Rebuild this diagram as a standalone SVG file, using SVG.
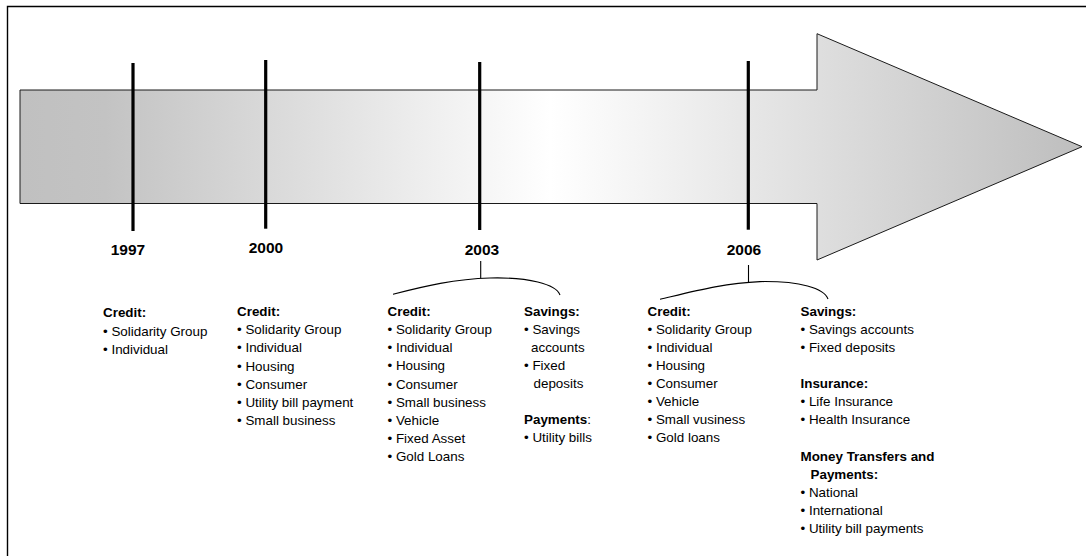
<svg xmlns="http://www.w3.org/2000/svg" width="1086" height="556" viewBox="0 0 1086 556">
  <defs>
    <linearGradient id="bandFill" gradientUnits="userSpaceOnUse" x1="20" y1="0" x2="1082" y2="0">
      <stop offset="0" stop-color="#c0c0c0"/>
      <stop offset="0.08" stop-color="#c3c3c3"/>
      <stop offset="0.5" stop-color="#ffffff"/>
      <stop offset="1" stop-color="#bebebe"/>
    </linearGradient>
  </defs>
  <style>
    .frame { fill: none; stroke: #000; stroke-width: 1.4; }
    .band { fill: url(#bandFill); stroke: #1a1a1a; stroke-width: 1; }
    .tick { stroke: #000; stroke-width: 3.2; }
    .year { font-family: "Liberation Sans", Arial, sans-serif; font-size: 15.5px; font-weight: bold; fill: #000; text-anchor: middle; }
    .brace { fill: none; stroke: #000; stroke-width: 1.1; }
    .list { font-family: "Liberation Sans", Arial, sans-serif; font-size: 13.4px; fill: #000; }
    .hd { font-weight: bold; }
    .nb { font-weight: normal; }
  </style>

  <rect width="1086" height="556" fill="#fff"/>
  <polyline class="frame" points="7.5,556 7.5,6.5 1086,6.5"/>

  <!-- timeline arrow -->
  <g id="timeline">
    <path class="band" d="M20,90 H817 V33.7 L1082,146.7 L817,260 V203.5 H20 Z"/>
  </g>

  <!-- year markers -->
  <g id="year-1997">
    <line class="tick" x1="133" y1="63" x2="133" y2="231"/>
    <text class="year" x="128" y="255">1997</text>
  </g>
  <g id="year-2000">
    <line class="tick" x1="265.7" y1="60" x2="265.7" y2="228.7"/>
    <text class="year" x="266" y="253">2000</text>
  </g>
  <g id="year-2003">
    <line class="tick" x1="479.7" y1="62" x2="479.7" y2="230"/>
    <text class="year" x="482" y="255">2003</text>
  </g>
  <g id="year-2006">
    <line class="tick" x1="748.3" y1="61" x2="748.3" y2="229.7"/>
    <text class="year" x="744" y="255">2006</text>
  </g>

  <!-- braces grouping the product columns -->
  <g id="connectors">
    <line class="brace" x1="480.7" y1="261" x2="480.7" y2="278"/>
    <path class="brace" d="M393,294.3 C425,286 455,279 490,278 C528,277 556,284 560,295"/>
    <line class="brace" x1="748.5" y1="265" x2="748.5" y2="282"/>
    <path class="brace" d="M660,299.3 C695,291 725,283 760,281.6 C800,281 824,288 828,299"/>
  </g>

  <!-- product lists -->
  <g id="products-1997">
    <text class="list">
      <tspan class="hd" x="103" y="317">Credit:</tspan>
      <tspan x="103" y="335.5">• Solidarity Group</tspan>
      <tspan x="103" y="354">• Individual</tspan>
    </text>
  </g>

  <g id="products-2000">
    <text class="list">
      <tspan class="hd" x="237" y="316">Credit:</tspan>
      <tspan x="237" y="334">• Solidarity Group</tspan>
      <tspan x="237" y="352.3">• Individual</tspan>
      <tspan x="237" y="370.5">• Housing</tspan>
      <tspan x="237" y="388.6">• Consumer</tspan>
      <tspan x="237" y="406.6">• Utility bill payment</tspan>
      <tspan x="237" y="424.6">• Small business</tspan>
    </text>
  </g>

  <g id="products-2003-credit">
    <text class="list">
      <tspan class="hd" x="387.5" y="316">Credit:</tspan>
      <tspan x="387.5" y="334.2">• Solidarity Group</tspan>
      <tspan x="387.5" y="352.3">• Individual</tspan>
      <tspan x="387.5" y="370.4">• Housing</tspan>
      <tspan x="387.5" y="388.5">• Consumer</tspan>
      <tspan x="387.5" y="406.6">• Small business</tspan>
      <tspan x="387.5" y="424.7">• Vehicle</tspan>
      <tspan x="387.5" y="442.8">• Fixed Asset</tspan>
      <tspan x="387.5" y="460.9">• Gold Loans</tspan>
    </text>
  </g>

  <g id="products-2003-other">
    <text class="list">
      <tspan class="hd" x="524" y="315.5">Savings:</tspan>
      <tspan x="524" y="334">• Savings</tspan>
      <tspan x="531" y="352">accounts</tspan>
      <tspan x="524" y="370">• Fixed</tspan>
      <tspan x="533.5" y="388">deposits</tspan>
      <tspan class="hd" x="524" y="424">Payments</tspan><tspan class="nb">:</tspan>
      <tspan x="524" y="442">• Utility bills</tspan>
    </text>
  </g>

  <g id="products-2006-credit">
    <text class="list">
      <tspan class="hd" x="647.5" y="316">Credit:</tspan>
      <tspan x="647.5" y="334">• Solidarity Group</tspan>
      <tspan x="647.5" y="352">• Individual</tspan>
      <tspan x="647.5" y="370">• Housing</tspan>
      <tspan x="647.5" y="388">• Consumer</tspan>
      <tspan x="647.5" y="406">• Vehicle</tspan>
      <tspan x="647.5" y="424">• Small vusiness</tspan>
      <tspan x="647.5" y="442">• Gold loans</tspan>
    </text>
  </g>

  <g id="products-2006-other">
    <text class="list">
      <tspan class="hd" x="800.5" y="316">Savings:</tspan>
      <tspan x="800.5" y="334">• Savings accounts</tspan>
      <tspan x="800.5" y="352">• Fixed deposits</tspan>
      <tspan class="hd" x="800.5" y="388.3">Insurance:</tspan>
      <tspan x="800.5" y="406.3">• Life Insurance</tspan>
      <tspan x="800.5" y="424.3">• Health Insurance</tspan>
      <tspan class="hd" x="800.5" y="460.7">Money Transfers and</tspan>
      <tspan class="hd" x="810.5" y="478.7">Payments:</tspan>
      <tspan x="800.5" y="496.8">• National</tspan>
      <tspan x="800.5" y="514.8">• International</tspan>
      <tspan x="800.5" y="532.8">• Utility bill payments</tspan>
    </text>
  </g>
</svg>
